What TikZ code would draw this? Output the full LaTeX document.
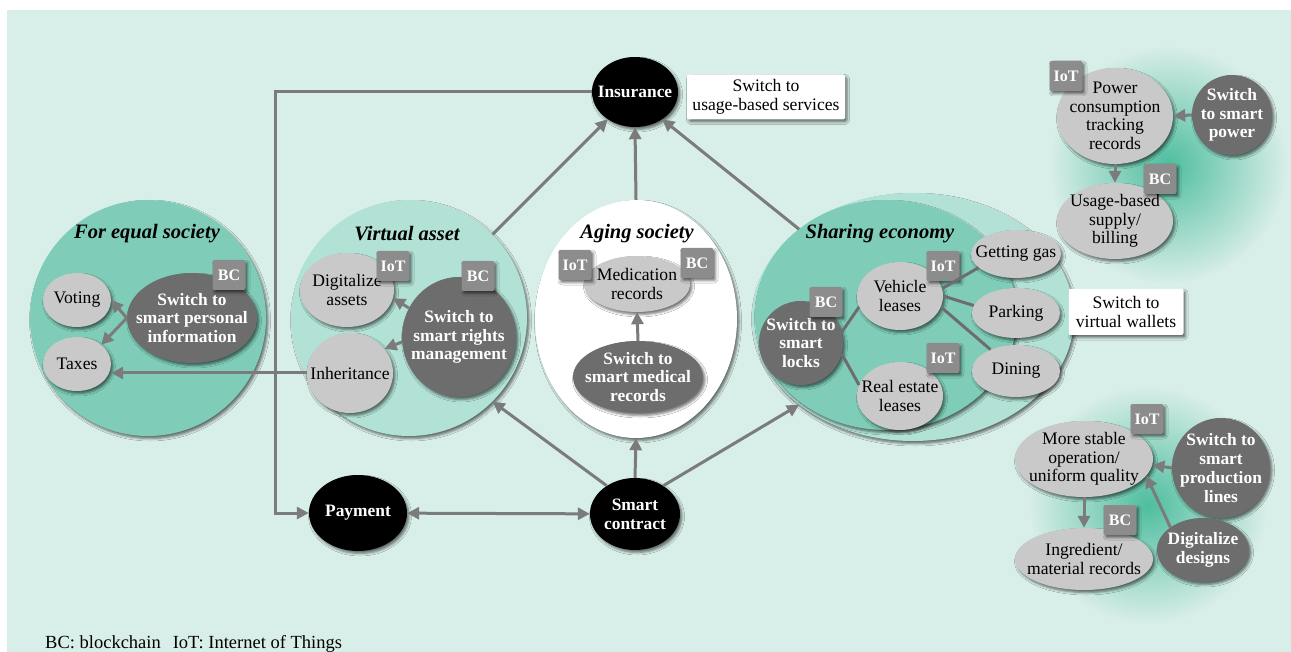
\documentclass[tikz,border=0pt]{standalone}
\usepackage{fontspec}
\setmainfont{Liberation Serif}
\usepackage{tikz}
\usetikzlibrary{shapes.geometric,arrows.meta,shadows.blur,fadings}

\definecolor{fond}{HTML}{D8EEE8}
\definecolor{vertmoyen}{HTML}{7FCDB8}
\definecolor{vertclair}{HTML}{B2E1D5}
\definecolor{lueur}{HTML}{4FBE9F}
\definecolor{grisclair}{HTML}{C9C9C9}
\definecolor{grisfonce}{HTML}{6D6D6D}
\definecolor{gristag}{HTML}{8C8C8C}
\definecolor{grisfleche}{HTML}{7B7B7B}

\tikzfading[name=halo, inner color=transparent!0, outer color=transparent!100]

\newcommand\normaltxt{\fontsize{17.6}{18.5}\selectfont}
\newcommand\grastxt{\fontsize{17.4}{18.7}\selectfont\bfseries}
\newcommand\etiqtxt{\fontsize{16}{16}\selectfont\bfseries}
\newcommand\titretxt{\fontsize{20.5}{21}\selectfont\bfseries\itshape}

\tikzset{
  ombre/.style={blur shadow={shadow xshift=2pt, shadow yshift=-2.5pt,
      shadow blur radius=2.5pt, shadow opacity=55}},
  cercle/.style={ellipse, ombre, inner sep=0pt},
  bulle/.style={ellipse, ombre, inner xsep=-20pt, inner ysep=-20pt, align=center},
  clair/.style={bulle, fill=grisclair, font=\normaltxt},
  fonce/.style={bulle, fill=grisfonce, text=white, font=\grastxt},
  noir/.style={bulle, fill=black, text=white, font=\grastxt},
  etiq/.style={rectangle, rounded corners=2pt, ombre, fill=gristag, text=white,
    font=\etiqtxt, minimum width=33pt, minimum height=30pt, inner sep=0pt},
  boite/.style={rectangle, rounded corners=2pt, ombre, fill=white, align=center,
    font=\normaltxt, inner sep=0pt},
  titre/.style={font=\titretxt},
  fleche/.style={draw=grisfleche, line width=3pt, -{Triangle[length=12pt,width=12pt]}},
  dfleche/.style={fleche, {Triangle[length=12pt,width=12pt]}-{Triangle[length=12pt,width=12pt]}},
  trait/.style={draw=grisfonce, line width=3pt},
}

\begin{document}
\begin{tikzpicture}[x=1pt, y=-1pt]
%% fond
\useasboundingbox (0,0) rectangle (1291,652);
\fill[fond] (7,10) rectangle (1291,652);

%% lueurs a droite
\fill[lueur, path fading=halo] (1168,165) circle (118);
\fill[lueur, path fading=halo] (1148,505) circle (118);

%% grands cercles
\node[cercle, fill=vertmoyen, minimum size=236pt] (eq) at (148,318) {};
\node[cercle, fill=vertclair, minimum size=236pt] (va) at (409,318) {};
\node[cercle, fill=white, minimum width=202pt, minimum height=238pt] (ag) at (636,319) {};
\node[cercle, fill=vertclair, minimum width=322pt, minimum height=248pt] (seo) at (913,317) {};
\node[cercle, fill=vertmoyen, minimum width=262pt, minimum height=230pt] (sei) at (886,315) {};

%% titres
\node[titre] (titreeq) at (147,234) {For equal society};
\node[titre] (titreva) at (407,234) {Virtual asset};
\node[titre] (titreag) at (637,234) {Aging society};
\node[titre] (titrese) at (880,234) {Sharing economy};

%% societe egale
\node[clair, minimum width=68pt, minimum height=54pt] (vote) at (77,300) {Voting};
\node[clair, minimum width=68pt, minimum height=54pt] (impots) at (77,364) {Taxes};
\node[fonce, minimum width=130pt, minimum height=90pt] (perso) at (192,318) {Switch to\\smart personal\\information};
\node[etiq] (bcperso) at (229,275) {BC};

%% actif virtuel
\node[clair, minimum width=94pt, minimum height=74pt] (actifs) at (347,290) {Digitalize\\assets};
\node[etiq] (iotactifs) at (393,266) {IoT};
\node[fonce, minimum width=114pt, minimum height=120pt] (droits) at (459,337) {Switch to\\smart rights\\management};
\node[etiq] (bcdroits) at (478,276) {BC};
\node[clair, minimum width=86pt, minimum height=80pt] (heritage) at (350,373) {Inheritance};

%% societe vieillissante
\node[clair, minimum width=106pt, minimum height=56pt] (medic) at (637,284) {Medication\\records};
\node[etiq] (iotmedic) at (575,265) {IoT};
\node[etiq] (bcmedic) at (697,263) {BC};
\node[fonce, minimum width=130pt, minimum height=72pt] (dossiers) at (638,377) {Switch to\\smart medical\\records};

%% economie de partage
\node[fonce, minimum size=84pt] (serrures) at (801,343) {Switch to\\smart\\locks};
\node[etiq] (bcserrures) at (826,302) {BC};
\node[clair, minimum width=86pt, minimum height=68pt] (vehicules) at (900,296) {Vehicle\\leases};
\node[etiq] (iotvehicules) at (943,266) {IoT};
\node[clair, minimum width=86pt, minimum height=68pt] (immo) at (900,396) {Real estate\\leases};
\node[etiq] (iotimmo) at (943,358) {IoT};
\node[clair, minimum width=90pt, minimum height=48pt] (essence) at (1016,254) {Getting gas};
\node[clair, minimum width=88pt, minimum height=50pt] (parking) at (1016,313) {Parking};
\node[clair, minimum width=88pt, minimum height=52pt] (repas) at (1016,371) {Dining};
\node[boite, minimum width=115pt, minimum height=46pt] (portefeuille) at (1126,312) {Switch to\\virtual wallets};

%% noeuds noirs
\node[noir, minimum width=86pt, minimum height=70pt] (assurance) at (635,92) {Insurance};
\node[boite, minimum width=158pt, minimum height=45pt] (usage) at (766,97) {Switch to\\usage-based services};
\node[noir, minimum width=98pt, minimum height=76pt] (paiement) at (358,513) {Payment};
\node[noir, minimum width=90pt, minimum height=72pt] (contrat) at (635,514) {Smart\\contract};

%% energie
\node[clair, minimum width=116pt, minimum height=96pt] (conso) at (1115,116) {Power\\consumption\\tracking\\records};
\node[etiq] (iotconso) at (1066,76) {IoT};
\node[fonce, minimum size=80pt] (energie) at (1232,115) {Switch\\to smart\\power};
\node[clair, minimum width=116pt, minimum height=76pt] (facture) at (1115,221) {Usage-based\\supply/\\billing};
\node[etiq] (bcfacture) at (1160,179) {BC};

%% production
\node[clair, minimum width=138pt, minimum height=76pt] (stable) at (1084,459) {More stable\\operation/\\uniform quality};
\node[etiq] (iotstable) at (1147,419) {IoT};
\node[fonce, minimum width=98pt, minimum height=100pt] (lignes) at (1221,468) {Switch to\\smart\\production\\lines};
\node[fonce, minimum width=92pt, minimum height=64pt] (conception) at (1203,550) {Digitalize\\designs};
\node[clair, minimum width=138pt, minimum height=62pt] (ingredients) at (1084,559) {Ingredient/\\material records};
\node[etiq] (bcingredients) at (1120,520) {BC};

%% legende
\node[anchor=base west, font=\fontsize{18.5}{20}\selectfont, inner sep=0pt] (legende) at (45,648) {BC: blockchain\hspace{12pt}IoT: Internet of Things};

%% fleches vers l'assurance
\draw[fleche] (va.45) -- (assurance.225);
\draw[fleche] (ag.north) -- (assurance.south);
\draw[fleche] (seo.north west) -- (assurance.-45);
\coordinate (coin) at (275,92);
\draw[fleche] (assurance.west) -- (coin) |- (paiement.west);

%% fleches depuis le contrat
\draw[fleche] (contrat.135) -- (va.-45);
\draw[fleche] (contrat.north) -- (ag.south);
\draw[fleche] (contrat.45) -- (seo.south west);
\draw[dfleche] (paiement) -- (contrat);

%% dans les cercles
\draw[fleche] (perso.west) -- (vote.east);
\draw[fleche] (perso.west) -- (impots.north east);
\draw[fleche] (droits.150) -- (actifs.-10);
\draw[fleche] (droits.185) -- (heritage.35);
\draw[fleche] (heritage.west) -- (heritage.west -| impots.east);
\draw[fleche] (dossiers.north) -- (medic.south);
\draw[trait] (serrures.15) -- (vehicules.195);
\draw[trait] (serrures.-15) -- (immo.165);
\draw[trait] (vehicules.10) -- (essence.200);
\draw[trait] (vehicules.0) -- (parking.170);
\draw[trait] (vehicules.-15) -- (repas.140);

%% a droite
\draw[fleche] (energie.west) -- (conso.east);
\draw[fleche] (conso.south) -- (facture.north);
\draw[fleche] (lignes.west) -- (stable.-5);
\draw[fleche] (conception.north west) -- (stable.-15);
\draw[fleche] (stable.south) -- (ingredients.north);

\end{tikzpicture}
\end{document}
